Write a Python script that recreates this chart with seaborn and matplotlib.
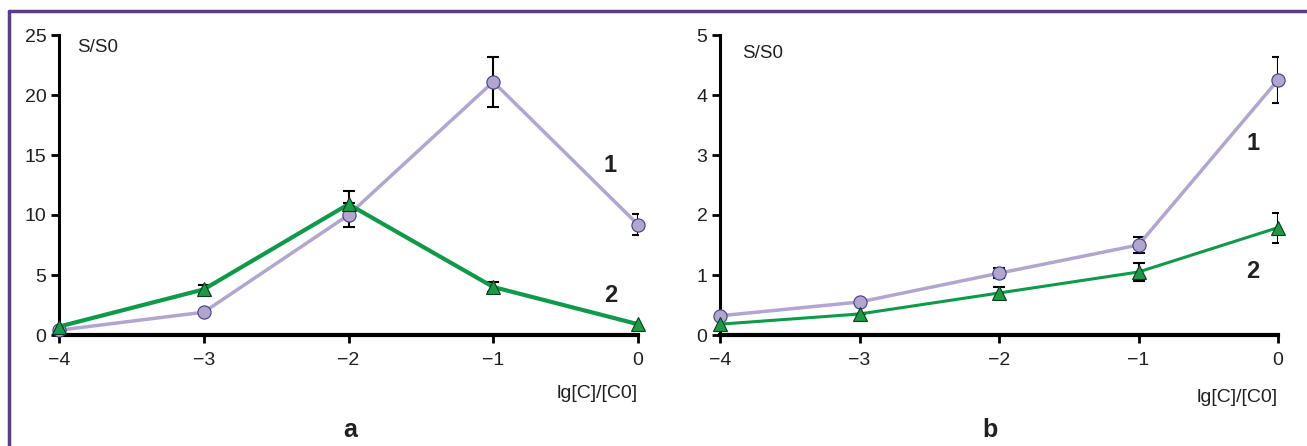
import matplotlib
matplotlib.use("Agg")
import matplotlib.pyplot as plt
import seaborn as sns
import pandas as pd
from matplotlib.lines import Line2D

# ---- data ----
x_vals = [-4, -3, -2, -1, 0]

a_s1 = [0.4, 1.9, 10.0, 21.1, 9.2]
a_s1_err = [0.0, 0.0, 1.0, 2.1, 0.9]
a_s2 = [0.7, 3.8, 10.9, 4.0, 0.9]
a_s2_err = [0.0, 0.4, 1.1, 0.4, 0.0]

b_s1 = [0.32, 0.55, 1.03, 1.50, 4.25]
b_s1_err = [0.0, 0.0, 0.08, 0.14, 0.38]
b_s2 = [0.18, 0.35, 0.70, 1.05, 1.79]
b_s2_err = [0.0, 0.0, 0.10, 0.15, 0.25]

x_ticks = [-4, -3, -2, -1, 0]
a_yticks = [0, 5, 10, 15, 20, 25]
b_yticks = [0, 1, 2, 3, 4, 5]

sns.set_style("white")
plt.rcParams['font.family'] = ['Liberation Sans', 'DejaVu Sans']

PURPLE = '#b2a5cf'
PURPLE_EDGE = '#3b3f8c'
GREEN = '#0e9a49'
GREEN_FILL = '#1c9a45'
TXT = '#231f20'

fig = plt.figure(figsize=(13.07, 4.46), dpi=100)
ax_a = fig.add_axes([59/1307, 1-335/446, 579/1307, 300/446])
ax_b = fig.add_axes([720/1307, 1-335/446, 558/1307, 300/446])


def draw(ax, s1, e1, s2, e2, yticks, lw_g, lw_p, label1_xy, label2_xy, tag, tag_x,
         ss0_xy, xl_y):
    df = pd.DataFrame({
        'x': x_vals * 2,
        'y': list(s1) + list(s2),
        's': ['1'] * 5 + ['2'] * 5,
    })
    # error bars
    ax.errorbar(x_vals, s1, yerr=e1, fmt='none', ecolor='black', elinewidth=1.5,
                capsize=4, capthick=1.5, zorder=2)
    ax.errorbar(x_vals, s2, yerr=e2, fmt='none', ecolor='black', elinewidth=1.5,
                capsize=4, capthick=1.5, zorder=2)
    sns.lineplot(data=df[df.s == '1'], x='x', y='y', ax=ax, color=PURPLE, lw=lw_p,
                 marker='o', markersize=9.5, markerfacecolor=PURPLE,
                 markeredgecolor=PURPLE_EDGE, markeredgewidth=0.8, zorder=3,
                 clip_on=False, legend=False)
    sns.lineplot(data=df[df.s == '2'], x='x', y='y', ax=ax, color=GREEN, lw=lw_g,
                 marker='^', markersize=10.5, markerfacecolor=GREEN_FILL,
                 markeredgecolor='#0b3b1e', markeredgewidth=0.8, zorder=4,
                 clip_on=False, legend=False)
    ax.set_xlim(-4, 0)
    ax.set_ylim(yticks[0], yticks[-1])
    ax.set_xticks(x_ticks)
    ax.set_yticks(yticks)
    ax.set_xlabel('')
    ax.set_ylabel('')
    for sp in ['top', 'right']:
        ax.spines[sp].set_visible(False)
    ax.spines['left'].set_linewidth(2.2)
    ax.spines['bottom'].set_linewidth(3)
    ax.spines['left'].set_color('black')
    ax.spines['bottom'].set_color('black')
    ax.tick_params(axis='both', which='both', direction='out', length=6, width=2,
                   colors='black', labelsize=14, labelcolor=TXT, left=True, bottom=True)
    ax.tick_params(axis='x', pad=6)
    ax.tick_params(axis='y', pad=3)
    ax.grid(False)
    ax.text(ss0_xy[0], ss0_xy[1], 'S/S0', transform=ax.transAxes, fontsize=13.5,
            color=TXT, ha='left', va='center')
    ax.text(label1_xy[0], label1_xy[1], '1', fontsize=17, fontweight='bold', color=TXT,
            ha='center', va='center')
    ax.text(label2_xy[0], label2_xy[1], '2', fontsize=17, fontweight='bold', color=TXT,
            ha='center', va='center')
    ax.text(1.0, xl_y, 'lg[C]/[C0]', transform=ax.transAxes, fontsize=14, color=TXT,
            ha='right', va='center')
    fig.text(tag_x, 1 - 437/446, tag, fontsize=18, fontweight='bold', color=TXT,
             ha='center', va='baseline')


draw(ax_a, a_s1, a_s1_err, a_s2, a_s2_err, a_yticks, 3.0, 2.5,
     (-0.19, 14.1), (-0.19, 3.3), 'a', 350/1307, (0.031, 0.96), -0.195)
draw(ax_b, b_s1, b_s1_err, b_s2, b_s2_err, b_yticks, 2.2, 2.5,
     (-0.18, 3.19), (-0.18, 1.06), 'b', 990/1307, (0.039, 0.94), -0.21)

# purple frame
FRAME = '#5c3b8f'
fig.add_artist(Line2D([9/1307, 1.0], [1-11/446, 1-11/446], color=FRAME, lw=2.5,
                      transform=fig.transFigure))
fig.add_artist(Line2D([9/1307, 9/1307], [0.0, 1-11/446], color=FRAME, lw=2.5,
                      transform=fig.transFigure))

fig.savefig('out.png', dpi=100)
